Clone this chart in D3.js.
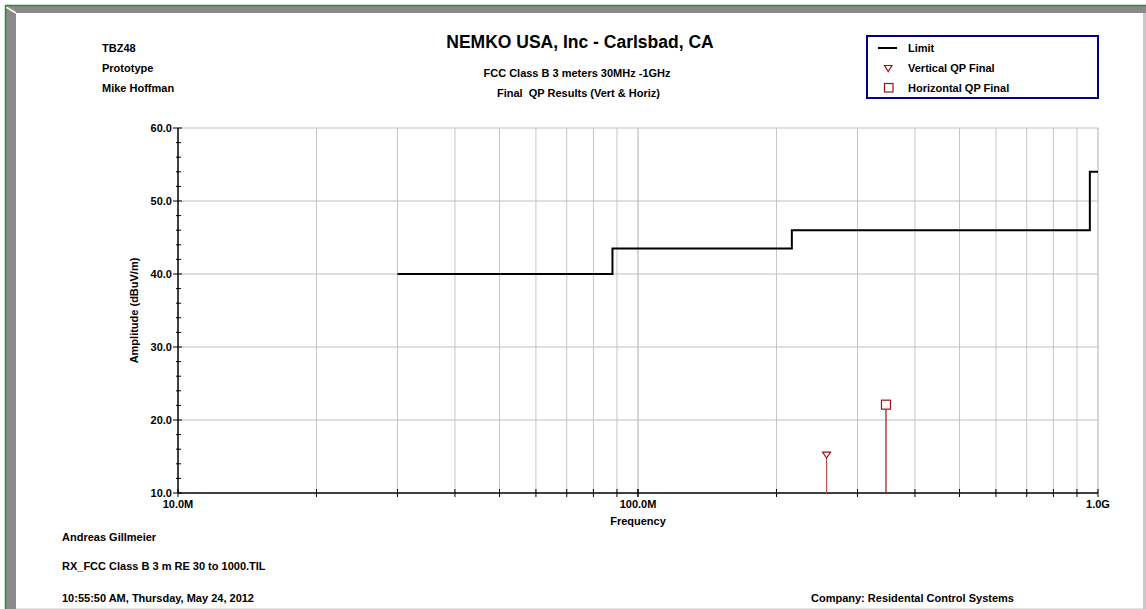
<!DOCTYPE html>
<html><head><meta charset="utf-8">
<script src="https://cdn.jsdelivr.net/npm/d3@7"></script>
<style>
html,body{margin:0;padding:0;background:#fff;}
svg{display:block;font-family:Arial,"Liberation Sans",sans-serif;font-weight:bold;}
text{white-space:pre;}
</style></head>
<body><svg id="c" width="1146" height="609"></svg>
<script>
// ---- data ----
const limitFreqMHz = [30, 88, 88, 216, 216, 960, 960, 1000];
const limitDb      = [40, 40, 43.5, 43.5, 46, 46, 54, 54];
const vertFreqMHz = [257];
const vertDb      = [15.2];
const horizFreqMHz = [346];
const horizDb      = [22.1];
const yTicks = [10, 20, 30, 40, 50, 60];
const xMajorTicks = [10, 100, 1000];
const xTickLabels = ["10.0M", "100.0M", "1.0G"];
const headerLeft = ["TBZ48", "Prototype", "Mike Hoffman"];
const titleLines = ["NEMKO USA, Inc - Carlsbad, CA", "FCC Class B 3 meters 30MHz -1GHz", "Final  QP Results (Vert & Horiz)"];
const legendLabels = ["Limit", "Vertical QP Final", "Horizontal QP Final"];
const footerLeft = ["Andreas Gillmeier", "RX_FCC Class B 3 m RE 30 to 1000.TIL", "10:55:50 AM, Thursday, May 24, 2012"];
const footerRight = "Company: Residental Control Systems";

const svg = d3.select("#c");
const W = 1146, H = 609;
const FS = 11;

// ---- frame ----
svg.append("rect").attr("x",0).attr("y",0).attr("width",W).attr("height",H).attr("fill","#fff");
svg.append("rect").attr("x",6).attr("y",6).attr("width",W-6).attr("height",7).attr("fill","#8a8a8a");
svg.append("rect").attr("x",6).attr("y",6).attr("width",10).attr("height",H-6).attr("fill","#8a8a8a");
svg.append("path").attr("d","M6,7 L16,13").attr("stroke","#fff").attr("stroke-width",1.5);
svg.append("line").attr("x1",5).attr("x2",W).attr("y1",5.5).attr("y2",5.5).attr("stroke","#2e8b2e").attr("stroke-width",1.5);
svg.append("line").attr("x1",5.5).attr("x2",5.5).attr("y1",5).attr("y2",H).attr("stroke","#2e8b2e").attr("stroke-width",1.5);
svg.append("rect").attr("x",1143).attr("y",13).attr("width",3).attr("height",H-13).attr("fill","#c8c8c8");
svg.append("line").attr("x1",16).attr("x2",1143).attr("y1",608.5).attr("y2",608.5).attr("stroke","#e4e4e4");

// ---- scales ----
const x = d3.scaleLog().domain([10, 1000]).range([178, 1098]);
const y = d3.scaleLinear().domain([10, 60]).range([493, 128]);

// grid
const minorX = [];
[10, 100].forEach(d => { for (let k = 1; k <= 10; k++) minorX.push(d * k); });
const gx = svg.append("g");
minorX.forEach(f => {
  const isMajor = xMajorTicks.includes(f);
  if (f === 10) return;
  gx.append("line").attr("x1", x(f)).attr("x2", x(f)).attr("y1", 128).attr("y2", 493)
    .attr("stroke", isMajor ? "#d6d6d6" : "#c6c6c6").attr("stroke-width", isMajor ? 2 : 1);
});
yTicks.forEach(v => {
  if (v === 10) return;
  gx.append("line").attr("x1", 178).attr("x2", 1098).attr("y1", y(v)).attr("y2", y(v))
    .attr("stroke", "#c0c0c0").attr("stroke-width", 1);
});

// axes
const ax = svg.append("g");
ax.append("line").attr("x1",178).attr("x2",1098).attr("y1",493).attr("y2",493).attr("stroke","#000").attr("stroke-width",1.5);
ax.append("line").attr("x1",178).attr("x2",178).attr("y1",128).attr("y2",493).attr("stroke","#000").attr("stroke-width",1.5);
minorX.forEach(f => {
  ax.append("line").attr("x1", x(f)).attr("x2", x(f)).attr("y1", 489).attr("y2", 497).attr("stroke","#000").attr("stroke-width",1);
});
d3.range(10, 60.01, 2).forEach(v => {
  const major = v % 10 === 0;
  ax.append("line").attr("x1", major ? 173 : 176).attr("x2", major ? 182 : 181)
    .attr("y1", y(v)).attr("y2", y(v)).attr("stroke", "#000").attr("stroke-width", 1);
});
yTicks.forEach(v => {
  ax.append("text").attr("x", 172).attr("y", y(v) + 4).attr("text-anchor","end")
    .attr("font-size", FS).text(v.toFixed(1));
});
xMajorTicks.forEach((f, i) => {
  ax.append("text").attr("x", x(f)).attr("y", 508).attr("text-anchor","middle")
    .attr("font-size", FS).text(xTickLabels[i]);
});
ax.append("text").attr("x", 638).attr("y", 525).attr("text-anchor","middle").attr("font-size",FS).text("Frequency");
ax.append("text").attr("transform","translate(137.5,310.5) rotate(-90)").attr("text-anchor","middle")
  .attr("font-size",FS).text("Amplitude (dBuV/m)");

// limit line
const limitData = limitFreqMHz.map((f, i) => [f, limitDb[i]]);
svg.append("path").datum(limitData)
  .attr("d", d3.line().x(d => x(d[0])).y(d => y(d[1])))
  .attr("fill","none").attr("stroke","#000").attr("stroke-width",2);

// vertical markers
vertFreqMHz.forEach((f, i) => {
  const cx = x(f), cy = y(vertDb[i]);
  svg.append("line").attr("x1",cx).attr("x2",cx).attr("y1",cy+3).attr("y2",493).attr("stroke","#c05050").attr("stroke-width",1.2);
  svg.append("path").attr("d",`M${cx-4},${cy-3} L${cx+4},${cy-3} L${cx},${cy+3} Z`)
    .attr("fill","#fff").attr("stroke","#a01010").attr("stroke-width",1.2);
});
horizFreqMHz.forEach((f, i) => {
  const cx = x(f), cy = y(horizDb[i]);
  svg.append("line").attr("x1",cx).attr("x2",cx).attr("y1",cy+4.5).attr("y2",493).attr("stroke","#a01010").attr("stroke-width",1.2);
  svg.append("rect").attr("x",cx-4.5).attr("y",cy-4.5).attr("width",9).attr("height",9)
    .attr("fill","#fff").attr("stroke","#a01010").attr("stroke-width",1.2);
});

// header text
headerLeft.forEach((t, i) => {
  svg.append("text").attr("x",102).attr("y",52 + i*20).attr("font-size",FS).text(t);
});
svg.append("text").attr("x",580).attr("y",48).attr("text-anchor","middle").attr("font-size",17.5).text(titleLines[0]);
svg.append("text").attr("x",577).attr("y",77).attr("text-anchor","middle").attr("font-size",FS).text(titleLines[1]);
svg.append("text").attr("x",578.5).attr("y",97).attr("text-anchor","middle").attr("font-size",FS).text(titleLines[2]);

// legend
const lg = svg.append("g");
lg.append("rect").attr("x",867).attr("y",36).attr("width",231).attr("height",62)
  .attr("fill","#fff").attr("stroke","#000080").attr("stroke-width",2);
legendLabels.forEach((t, i) => {
  lg.append("text").attr("x",908).attr("y",52 + i*20).attr("font-size",FS).text(t);
});
lg.append("line").attr("x1",878).attr("x2",897).attr("y1",48).attr("y2",48).attr("stroke","#000").attr("stroke-width",2);
lg.append("path").attr("d","M884.5,65.5 L892,65.5 L888.2,71.5 Z").attr("fill","#fff").attr("stroke","#a01010").attr("stroke-width",1.2);
lg.append("rect").attr("x",884.5).attr("y",83.5).attr("width",8.5).attr("height",8.5).attr("fill","#fff").attr("stroke","#a01010").attr("stroke-width",1.2);

// footer
const footY = [541, 570, 602];
footerLeft.forEach((t, i) => {
  svg.append("text").attr("x",62).attr("y",footY[i]).attr("font-size",FS).text(t);
});
svg.append("text").attr("x",811).attr("y",602).attr("font-size",FS).text(footerRight);
</script></body></html>
